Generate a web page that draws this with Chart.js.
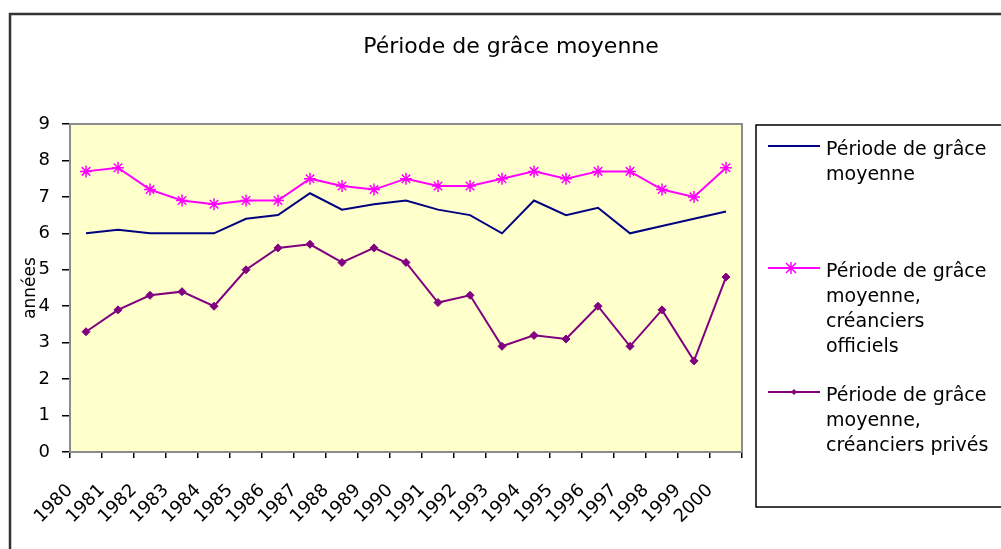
<!DOCTYPE html>
<html>
<head>
<meta charset="utf-8">
<script src="https://cdn.jsdelivr.net/npm/chart.js@4.4.1/dist/chart.umd.min.js"></script>
<style>
body { margin: 0; background: #fff; }
</style>
</head>
<body>
<canvas id="graceChart" width="1001" height="549"></canvas>
<script>
const years = ['1980', '1981', '1982', '1983', '1984', '1985', '1986', '1987', '1988', '1989', '1990',
    '1991', '1992', '1993', '1994', '1995', '1996', '1997', '1998', '1999', '2000'];

const moyenne   = [6.0, 6.1, 6.0, 6.0, 6.0, 6.4, 6.5, 7.1, 6.65, 6.8, 6.9, 6.65, 6.5, 6.0, 6.9, 6.5, 6.7, 6.0, 6.2, 6.4, 6.6];
const officiels = [7.7, 7.8, 7.2, 6.9, 6.8, 6.9, 6.9, 7.5, 7.3, 7.2, 7.5, 7.3, 7.3, 7.5, 7.7, 7.5, 7.7, 7.7, 7.2, 7.0, 7.8];
const prives    = [3.3, 3.9, 4.3, 4.4, 4.0, 5.0, 5.6, 5.7, 5.2, 5.6, 5.2, 4.1, 4.3, 2.9, 3.2, 3.1, 4.0, 2.9, 3.9, 2.5, 4.8];

const yTicks = [0, 1, 2, 3, 4, 5, 6, 7, 8, 9];

const chartTitle = 'Période de grâce moyenne';
const seriesLabels = [
    'Période de grâce moyenne',
    'Période de grâce moyenne, créanciers officiels',
    'Période de grâce moyenne, créanciers privés'
];

const FONT = 'DejaVu Sans';

// yellow plot area, outer frame, title and the boxed legend on the right
const excelLook = {
    id: 'excelLook',
    beforeDatasetsDraw(chart) {
        const { ctx, chartArea: a } = chart;
        ctx.save();
        ctx.fillStyle = '#FFFFCC';
        ctx.fillRect(a.left, a.top, a.right - a.left, a.bottom - a.top);
        ctx.strokeStyle = '#8c8c8c';
        ctx.lineWidth = 2;
        ctx.strokeRect(a.left, a.top, a.right - a.left, a.bottom - a.top);
        ctx.restore();
    },
    afterDraw(chart) {
        const ctx = chart.ctx;
        ctx.save();
        // outer frame
        ctx.strokeStyle = '#333';
        ctx.lineWidth = 2.5;
        ctx.strokeRect(10, 14, 1010, 560);

        // title
        ctx.fillStyle = '#000';
        ctx.font = '22px "' + FONT + '"';
        ctx.textAlign = 'center';
        ctx.textBaseline = 'middle';
        ctx.fillText(chartTitle, 511, 47);
        ctx.textAlign = 'left';

        // legend box
        ctx.fillStyle = '#fff';
        ctx.strokeStyle = '#000';
        ctx.lineWidth = 1.5;
        ctx.fillRect(756, 125, 270, 382);
        ctx.strokeRect(756, 125, 270, 382);

        ctx.font = '19px "' + FONT + '"';
        const rowTops = [150, 272, 396];
        chart.data.datasets.forEach((ds, i) => {
            // wrap label
            const words = ds.label.split(' ');
            const lines = [];
            let cur = '';
            words.forEach((w) => {
                const test = cur ? cur + ' ' + w : w;
                if (ctx.measureText(test).width > 175 && cur) {
                    lines.push(cur);
                    cur = w;
                } else {
                    cur = test;
                }
            });
            lines.push(cur);

            const y0 = rowTops[i];
            const ly = y0 - 4;
            ctx.strokeStyle = ds.borderColor;
            ctx.lineWidth = 2;
            ctx.beginPath();
            ctx.moveTo(768, ly);
            ctx.lineTo(820, ly);
            ctx.stroke();
            if (ds.pointStyle === 'star') {
                ctx.lineWidth = 1.5;
                ctx.beginPath();
                ctx.moveTo(791, ly - 6); ctx.lineTo(791, ly + 6);
                ctx.moveTo(786, ly - 5); ctx.lineTo(796, ly + 5);
                ctx.moveTo(786, ly + 5); ctx.lineTo(796, ly - 5);
                ctx.stroke();
            } else if (ds.pointStyle === 'rectRot') {
                ctx.fillStyle = ds.borderColor;
                ctx.beginPath();
                ctx.moveTo(794, ly - 3); ctx.lineTo(797, ly); ctx.lineTo(794, ly + 3); ctx.lineTo(791, ly);
                ctx.closePath();
                ctx.fill();
            }
            ctx.fillStyle = '#000';
            lines.forEach((t, k) => ctx.fillText(t, 826, y0 + k * 25));
        });
        ctx.restore();
    }
};

const data = {
    labels: years,
    datasets: [{
        label: seriesLabels[0],
        data: moyenne,
        borderColor: '#000080',
        backgroundColor: '#000080',
        borderWidth: 2,
        pointRadius: 0,
        pointStyle: false
    }, {
        label: seriesLabels[1],
        data: officiels,
        borderColor: '#FF00FF',
        backgroundColor: '#FF00FF',
        borderWidth: 2,
        pointStyle: 'star',
        pointRadius: 6,
        pointBorderWidth: 1.5
    }, {
        label: seriesLabels[2],
        data: prives,
        borderColor: '#800080',
        backgroundColor: '#800080',
        borderWidth: 2,
        pointStyle: 'rectRot',
        pointRadius: 4,
        pointBorderWidth: 1
    }]
};

const config = {
    type: 'line',
    data: data,
    plugins: [excelLook],
    options: {
        responsive: false,
        animation: false,
        layout: { padding: { left: 10, right: 259, top: 124, bottom: 0 } },
        plugins: {
            legend: { display: false },
            tooltip: { enabled: false },
            title: { display: false }
        },
        scales: {
            x: {
                type: 'category',
                offset: true,
                grid: { drawOnChartArea: false, drawTicks: true, tickLength: 6, color: '#000', lineWidth: 1.5, offset: true },
                border: { display: true, color: '#000', width: 2 },
                ticks: {
                    autoSkip: false,
                    minRotation: 45,
                    maxRotation: 45,
                    labelOffset: -16,
                    padding: 22,
                    color: '#000',
                    font: { family: FONT, size: 18 }
                },
                afterFit(scale) { scale.height = 97; }
            },
            y: {
                min: 0,
                max: 9,
                afterBuildTicks(scale) { scale.ticks = yTicks.map((v) => ({ value: v })); },
                grid: { drawOnChartArea: false, drawTicks: true, tickLength: 8, color: '#000', lineWidth: 1.5 },
                border: { display: true, color: '#000', width: 2 },
                ticks: { color: '#000', padding: 12, font: { family: FONT, size: 18 } },
                title: {
                    display: true,
                    text: 'années',
                    color: '#000',
                    font: { family: FONT, size: 17 },
                    padding: { top: 10, bottom: 0 }
                },
                afterFit(scale) { scale.width = 60; }
            }
        }
    }
};

const graceChart = new Chart(document.getElementById('graceChart'), config);
</script>
</body>
</html>
